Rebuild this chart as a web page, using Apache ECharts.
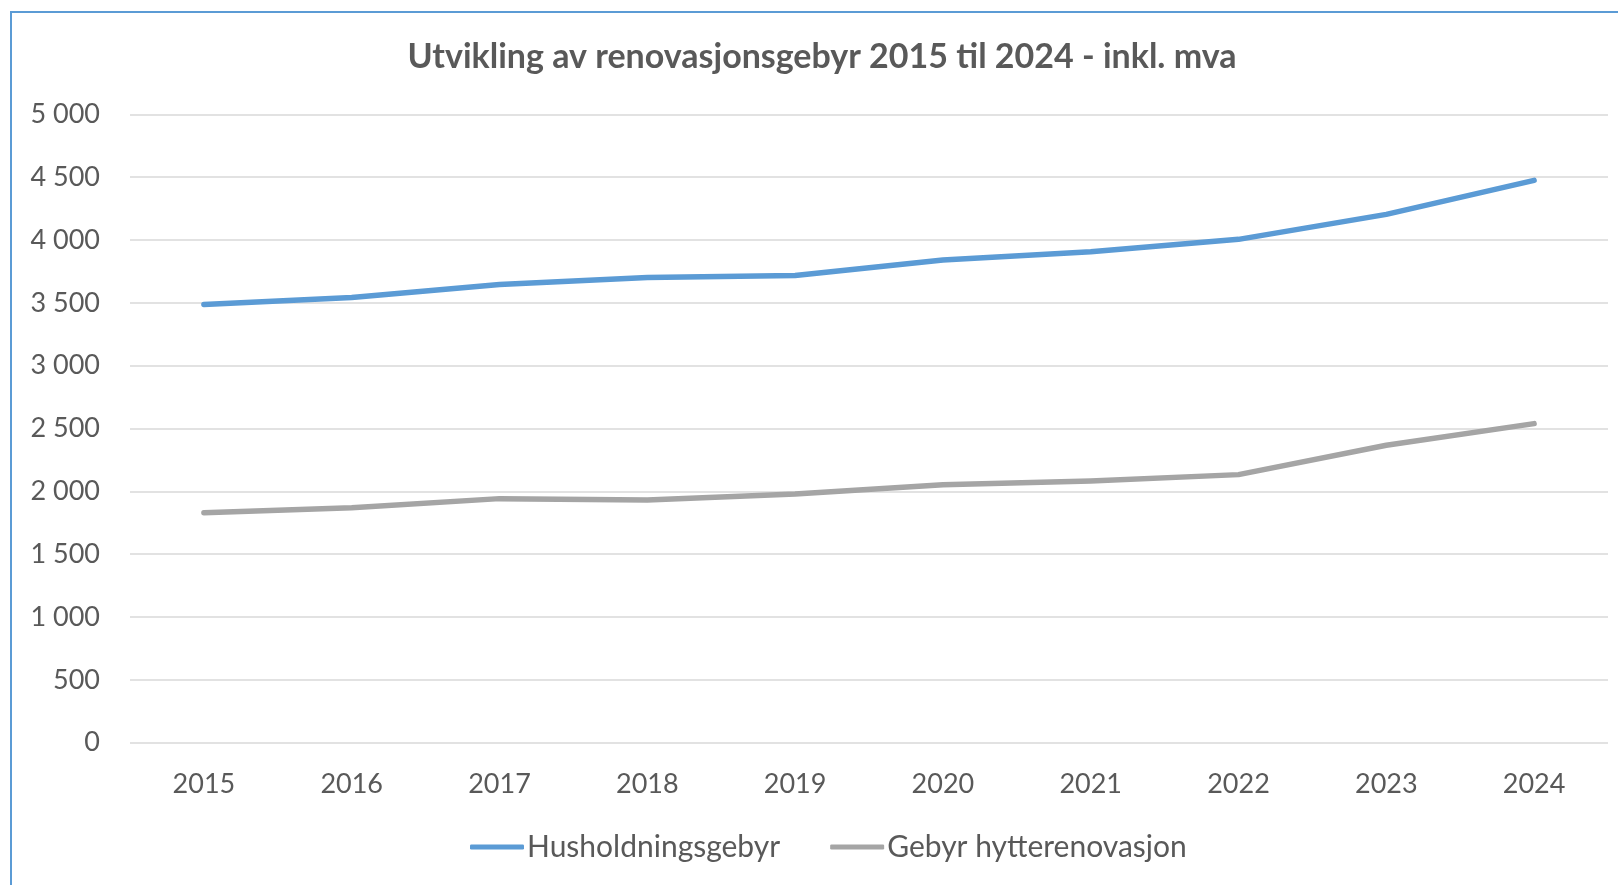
<!DOCTYPE html>
<html>
<head>
<meta charset="utf-8">
<script src="https://cdn.jsdelivr.net/npm/echarts@6/dist/echarts.min.js"></script>
<style>
html,body{margin:0;padding:0;background:#fff;}
#chart{width:1618px;height:885px;}
</style>
</head>
<body>
<div id="chart"></div>
<script>
const titleText = 'Utvikling av renovasjonsgebyr 2015 til 2024 - inkl. mva';
const years = ['2015','2016','2017','2018','2019','2020','2021','2022','2023','2024'];
const husholdningsgebyr = [3487, 3543, 3646, 3702, 3718, 3840, 3906, 4005, 4204, 4474];
const hytterenovasjon = [1830, 1870, 1942, 1932, 1979, 2053, 2083, 2133, 2367, 2539];
const seriesNames = ['Husholdningsgebyr', 'Gebyr hytterenovasjon'];
const seriesColors = ['#5B9BD5', '#A5A5A5'];

const font = 'Lato, "Open Sans", "Noto Sans", sans-serif';
const chart = echarts.init(document.getElementById('chart'));
chart.setOption({
  animation: false,
  backgroundColor: '#fff',
  graphic: [{
    type: 'rect',
    shape: { x: 11, y: 12, width: 1700, height: 1000 },
    style: { fill: 'none', stroke: '#5B9BD5', lineWidth: 2 },
    silent: true
  }],
  title: {
    text: titleText,
    left: 822,
    textAlign: 'center',
    top: 40,
    padding: 0,
    textStyle: { fontFamily: font, fontWeight: 'bold', fontSize: 34, color: '#595959' }
  },
  legend: {
    data: seriesNames,
    left: 470,
    top: 832,
    padding: 0,
    itemWidth: 54,
    itemHeight: 5,
    itemGap: 50,
    icon: 'roundRect',
    textStyle: { fontFamily: font, fontSize: 30, color: '#595959', padding: [0, 0, 0, -2] }
  },
  grid: { left: 130, right: 10, top: 114.3, bottom: 142.3, containLabel: false },
  xAxis: {
    type: 'category',
    data: years,
    boundaryGap: true,
    axisLine: { show: false },
    axisTick: { show: false },
    axisLabel: { fontFamily: font, fontSize: 27, color: '#595959', margin: 28 }
  },
  yAxis: {
    type: 'value',
    min: 0,
    max: 5000,
    interval: 500,
    axisLine: { show: false },
    axisTick: { show: false },
    splitLine: { lineStyle: { color: '#D9D9D9', width: 1.5 } },
    axisLabel: {
      fontFamily: font, fontSize: 27, color: '#595959', margin: 30,
      formatter: v => String(v).replace(/\B(?=(\d{3})+(?!\d))/g, ' ')
    }
  },
  series: [
    {
      name: seriesNames[0], type: 'line', data: husholdningsgebyr,
      symbol: 'none', color: seriesColors[0],
      lineStyle: { width: 5.5, cap: 'round', join: 'round', color: seriesColors[0] }
    },
    {
      name: seriesNames[1], type: 'line', data: hytterenovasjon,
      symbol: 'none', color: seriesColors[1],
      lineStyle: { width: 5.5, cap: 'round', join: 'round', color: seriesColors[1] }
    }
  ]
});
</script>
</body>
</html>
